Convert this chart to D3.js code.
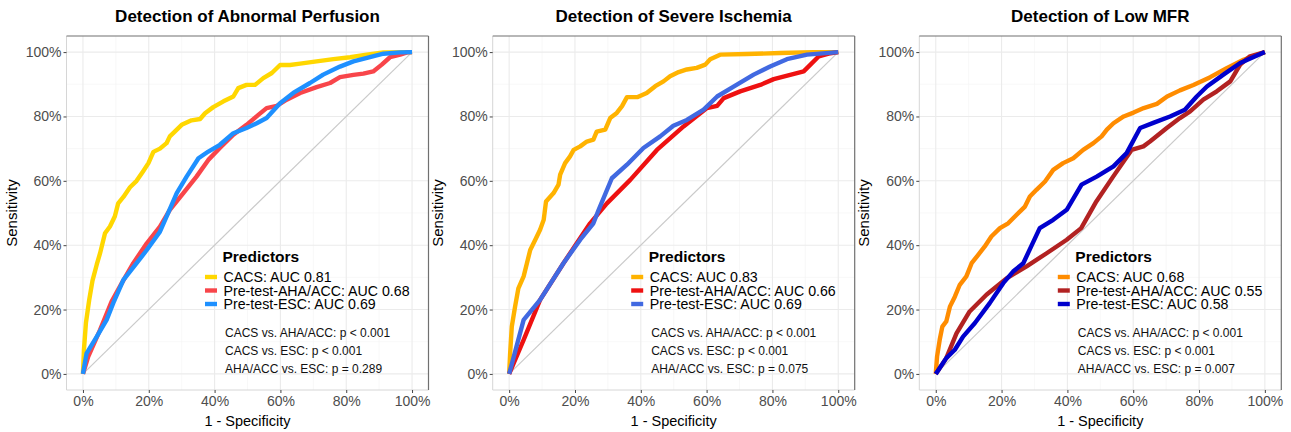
<!DOCTYPE html>
<html><head><meta charset="utf-8">
<script src="https://cdn.jsdelivr.net/npm/d3@7"></script>
<style>
body{margin:0;background:#fff;}
text{font-family:"Liberation Sans",Arial,sans-serif;}
</style></head>
<body><svg id="c" width="1291" height="432"></svg>
<script>
// ---------- DATA (percent) ----------
const titles = ["Detection of Abnormal Perfusion","Detection of Severe Ischemia","Detection of Low MFR"];
const tickValues = [0,20,40,60,80,100];
const tickLabels = ["0%","20%","40%","60%","80%","100%"];
const seriesNames = ["CACS","Pre-test-AHA/ACC","Pre-test-ESC"];
const aucs = [["0.81","0.68","0.69"],["0.83","0.66","0.69"],["0.68","0.55","0.58"]];
const pvals = [["< 0.001","< 0.001","= 0.289"],["< 0.001","< 0.001","= 0.075"],["< 0.001","< 0.001","= 0.007"]];
const colors = [["#FFD700","#F8454A","#1E90FF"],["#FFB300","#EE1111","#4169E1"],["#FF8C00","#B22222","#0000CD"]];

const p1_cacs = [[0,0],[0.3,7.5],[0.9,15.8],[1.9,23],[2.9,29],[4.2,34],[5.2,37.5],[6.7,43.7],[8.2,45.8],[9.7,49],[10.7,53],[12.3,55],[14.3,58],[16.3,60],[18.3,63],[19.9,65.5],[21.4,69],[23.4,70],[25.4,71.7],[26.4,73.8],[27.9,75.3],[30,77.4],[33,78.8],[35.6,79.2],[37.1,81],[39.6,82.9],[42.7,84.7],[45.7,86.2],[47.2,88.8],[49.7,89.8],[52.3,89.8],[54.8,91.9],[57.4,93.5],[59.9,96],[62.9,96],[66,96.4],[71,97.1],[76.1,97.8],[81.2,98.4],[86.2,99.2],[91.3,99.9],[100,100]];
const p1_aha = [[0,0],[1.6,5.4],[5.2,13.7],[8.7,22.5],[11.8,28.2],[15.3,34.4],[19.4,40.6],[23.4,45.8],[26.4,51],[30.5,56.2],[34.5,61.3],[38.1,66.5],[41.6,70.2],[45.7,74.3],[49.7,77.4],[53.3,80.5],[55.8,82.6],[58.9,83.3],[61.9,85.2],[66,87.3],[71,89.1],[75.1,90.4],[78.1,92.2],[82.2,92.9],[85.2,93.3],[88.2,94],[90.8,96.1],[93.3,98.4],[96.4,99.2],[98.5,99.9],[100,100]];
const p1_esc = [[0,0],[1.1,6.4],[4.2,11.6],[7.2,16.8],[9.2,22],[12.3,29.2],[16.3,34.4],[19.4,38.5],[23.4,44.2],[25.4,48.9],[28.5,56.2],[31.5,61.3],[35.1,67],[38.1,69.1],[41.6,71.2],[45.7,74.8],[49.7,76.4],[52.8,77.9],[55.8,79.5],[59.9,84.1],[63.9,87.3],[69,90.4],[73,93],[78.1,95.5],[82.2,97.1],[87.2,98.4],[91.3,99.5],[96.4,99.9],[100,100]];

const p2_cacs = [[0,0],[0.3,6.4],[0.8,14.7],[1.8,20.9],[2.8,26.6],[4.4,30.3],[5.4,34.4],[6.4,38.5],[7.9,41.6],[9.4,44.8],[10.5,47.9],[11.2,53.6],[13.5,56.2],[15,58.8],[15.5,61.9],[17,65.5],[18.5,67.6],[19.6,69.6],[21.6,70.7],[23.6,72.2],[25.6,72.8],[26.6,75.3],[29.2,75.9],[30.7,79.5],[32.7,81.1],[34.3,83.2],[35.8,86],[38.9,86],[41.8,87.3],[44.4,89.4],[46.9,90.9],[48.9,92.5],[51.5,93.8],[54,94.6],[57,95.1],[59.6,96.1],[61.1,97.8],[64.1,99.2],[72.2,99.4],[82.4,99.7],[92.5,100],[100,100]];
const p2_aha = [[0,0],[4.4,10.6],[9.4,23],[16.5,34.4],[24.6,46.8],[29.7,53],[36.8,60.3],[44.9,69.6],[53,76.9],[60.1,82.6],[63.2,83.3],[65.2,85.7],[70.2,87.8],[76.3,89.8],[80.4,91.6],[85.4,92.9],[89.5,94],[94.1,98.7],[97.1,99.5],[100,100]];
const p2_esc = [[0,0],[4.4,16.8],[9.4,23],[16.5,34.4],[21.6,41.7],[25.6,46.8],[27.2,51],[31.2,60.8],[35.8,65],[40.8,70.2],[45.9,73.8],[49.9,77.1],[54,78.9],[59.1,82.1],[63.2,86.2],[68.2,89.3],[74.3,93],[79.3,95.5],[84.4,97.8],[90.5,99.2],[100,100]];

const p3_cacs = [[0,0],[0.4,5.4],[1.2,10.6],[2,14.7],[3.2,16.3],[4.3,20.9],[5.8,24],[7.3,27.7],[9.3,30.3],[10.9,34.4],[12.9,37],[14.9,39.6],[16.9,42.7],[19.5,45.3],[22,46.8],[24.5,49.4],[27.1,52],[28.6,55.1],[30.6,57.2],[33.2,59.8],[35.7,63.4],[38.7,65.5],[41.8,67],[44.8,69.6],[47.9,71.7],[50.4,73.8],[52,75.9],[54,77.9],[57.1,80],[60.1,81.2],[63.2,82.6],[67.2,83.9],[70.3,86.2],[74.2,88.1],[78.3,89.8],[83.4,92.2],[88.4,95],[93.5,97.6],[100,100]];
const p3_aha = [[0,0],[3.2,4.9],[6.3,12.6],[10.3,19.4],[15.4,24.6],[21.5,29.7],[27.6,33.4],[33.7,37.5],[39.8,41.7],[44.2,45.3],[48.8,53.6],[53.9,61.3],[59.5,69.6],[63.1,70.7],[65.1,72.2],[70.2,76.4],[74.2,79.5],[77.3,81.6],[81.3,85.2],[85.4,87.8],[89.5,90.9],[92.5,96.1],[95.5,98.7],[100,100]];
const p3_esc = [[0,0],[3.2,4.9],[5.8,7.5],[8.3,11.6],[11.9,15.8],[16.4,22],[20.5,28.2],[23.5,31.8],[26.6,34.4],[31.6,45.3],[35.7,47.9],[39.8,51],[44.3,58.8],[48.9,61.3],[54,64.5],[58,68.6],[62.1,76.4],[66.1,78],[71.2,80],[75.7,82.1],[79.3,86.2],[82.4,89.3],[87.4,93],[92.5,96.6],[100,100]];

const curves = [[p1_cacs,p1_aha,p1_esc],[p2_cacs,p2_aha,p2_esc],[p3_cacs,p3_aha,p3_esc]];

// ---------- DRAW ----------
const svg = d3.select("#c");
const boxLefts = [66.5, 492.7, 919.3];
const boxW = 362, boxTop = 36, boxBottom = 390;

titles.forEach((title, i) => {
  const L = boxLefts[i], R = L + boxW;
  const x = d3.scaleLinear().domain([-5,105]).range([L, R]);
  const y = d3.scaleLinear().domain([-5,105]).range([boxBottom, boxTop]);
  const g = svg.append("g");

  // minor grid
  const minor = [10,30,50,70,90];
  g.selectAll(".mx").data(minor).join("line")
    .attr("x1", d=>x(d)).attr("x2", d=>x(d)).attr("y1", boxTop).attr("y2", boxBottom)
    .attr("stroke","#f3f3f3").attr("stroke-width",0.6);
  g.selectAll(".my").data(minor).join("line")
    .attr("y1", d=>y(d)).attr("y2", d=>y(d)).attr("x1", L).attr("x2", R)
    .attr("stroke","#f3f3f3").attr("stroke-width",0.6);
  // major grid
  g.selectAll(".gx").data(tickValues).join("line")
    .attr("x1", d=>x(d)).attr("x2", d=>x(d)).attr("y1", boxTop).attr("y2", boxBottom)
    .attr("stroke","#ebebeb").attr("stroke-width",1.1);
  g.selectAll(".gy").data(tickValues).join("line")
    .attr("y1", d=>y(d)).attr("y2", d=>y(d)).attr("x1", L).attr("x2", R)
    .attr("stroke","#ebebeb").attr("stroke-width",1.1);

  // diagonal
  g.append("line").attr("x1", x(0)).attr("y1", y(0)).attr("x2", x(100)).attr("y2", y(100))
    .attr("stroke","#cacaca").attr("stroke-width",1.2);

  // curves
  const line = d3.line().x(d=>x(d[0])).y(d=>y(d[1]));
  curves[i].forEach((data, k) => {
    g.append("path").datum(data).attr("d", line)
      .attr("fill","none").attr("stroke", colors[i][k]).attr("stroke-width",4.4)
      .attr("stroke-linejoin","round").attr("stroke-linecap","butt");
  });

  // panel border
  g.append("line").attr("x1",L).attr("x2",L).attr("y1",boxTop).attr("y2",boxBottom).attr("stroke","#d6d6d6").attr("stroke-width",1);
  g.append("line").attr("x1",L).attr("x2",R).attr("y1",boxBottom).attr("y2",boxBottom).attr("stroke","#d6d6d6").attr("stroke-width",1);
  g.append("line").attr("x1",L).attr("x2",R).attr("y1",boxTop).attr("y2",boxTop).attr("stroke","#707070").attr("stroke-width",1.2);
  g.append("line").attr("x1",R).attr("x2",R).attr("y1",boxTop).attr("y2",boxBottom).attr("stroke","#707070").attr("stroke-width",1.2);

  // axes
  const xAxis = d3.axisBottom(x).tickValues(tickValues).tickFormat((d,j)=>tickLabels[j]).tickSize(3).tickPadding(3);
  const yAxis = d3.axisLeft(y).tickValues(tickValues).tickFormat((d,j)=>tickLabels[j]).tickSize(3).tickPadding(2);
  const gx = g.append("g").attr("transform",`translate(0,${boxBottom})`).call(xAxis);
  const gy = g.append("g").attr("transform",`translate(${L},0)`).call(yAxis);
  [gx,gy].forEach(a=>{
    a.select(".domain").remove();
    a.selectAll(".tick line").attr("stroke","#444");
    a.selectAll(".tick text").attr("fill","#4d4d4d").style("font-size","14px");
  });

  // axis titles
  g.append("text").attr("x", x(50)).attr("y", 426).attr("text-anchor","middle")
    .style("font-size","14.5px").attr("fill","#000").text("1 - Specificity");
  g.append("text").attr("transform",`translate(${L-50},${y(50)}) rotate(-90)`).attr("text-anchor","middle")
    .style("font-size","15px").attr("fill","#000").text("Sensitivity");

  // title
  g.append("text").attr("x",(L+R)/2).attr("y",22).attr("text-anchor","middle")
    .style("font-size","17px").style("font-weight","bold").attr("fill","#000").text(title);

  // legend
  const lx = L + 157;
  g.append("text").attr("x", lx-1).attr("y", 261.5).style("font-size","15.5px").style("font-weight","bold").text("Predictors");
  const ly = [277, 290.5, 304];
  seriesNames.forEach((s,k)=>{
    g.append("line").attr("x1", lx-18.5).attr("x2", lx-6.5).attr("y1", ly[k]).attr("y2", ly[k])
      .attr("stroke", colors[i][k]).attr("stroke-width",4.4);
    g.append("text").attr("x", lx).attr("y", ly[k]+5).style("font-size","14.2px").attr("fill","#000")
      .text(`${s}: AUC ${aucs[i][k]}`);
  });
  const statLabels = ["CACS vs. AHA/ACC: p ","CACS vs. ESC: p ","AHA/ACC vs. ESC: p "];
  const sy = [333, 351, 369];
  statLabels.forEach((s,k)=>{
    g.append("text").attr("x", lx+1.5).attr("y", sy[k]+4.3).style("font-size","12px").attr("fill","#111")
      .text(s + pvals[i][k]);
  });
});
</script></body></html>
